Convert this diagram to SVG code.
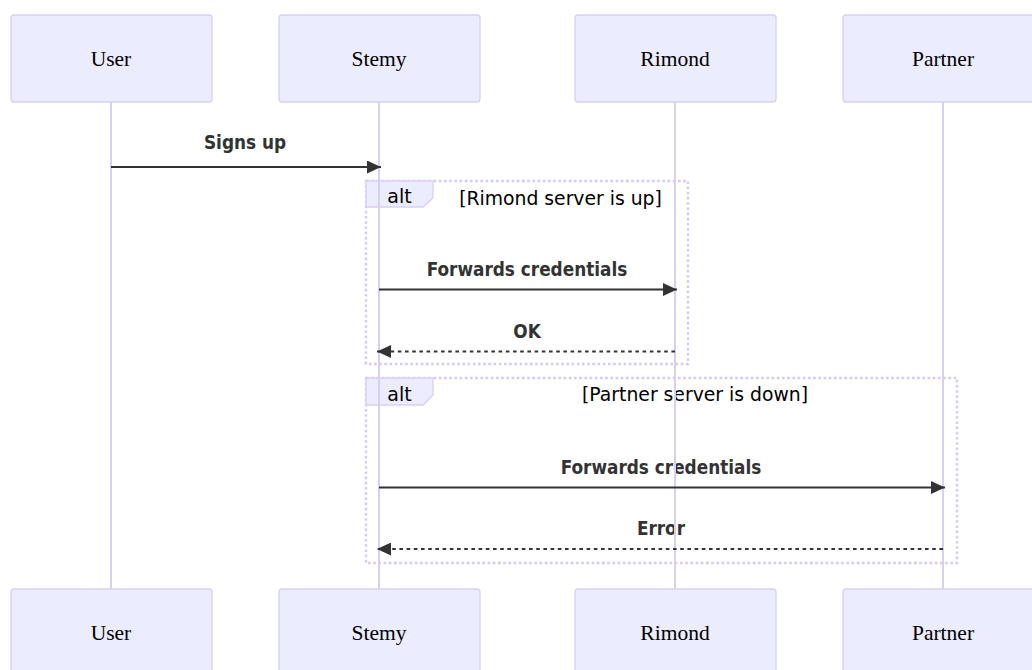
<svg xmlns="http://www.w3.org/2000/svg" width="1032" height="670" viewBox="0 0 1032 670">
<style>
.actor{fill:#ECECFF;stroke:#DACEF3;stroke-width:1.3}
.actorText{font-family:"Liberation Serif",serif;font-size:21.5px;fill:#000;text-anchor:middle;dominant-baseline:central}
.life{stroke:#DACEF3;stroke-width:2}
.frame{fill:none;stroke:#D6CAF4;stroke-width:2.4;stroke-dasharray:2.6 2.6}
.labelBox{fill:#ECECFF;stroke:#DACEF3;stroke-width:1.3}
.labelText{font-family:"DejaVu Sans",sans-serif;font-size:19px;fill:#000;text-anchor:middle}
.condText{font-family:"DejaVu Sans",sans-serif;font-size:18.8px;fill:#000;text-anchor:middle}
.msgText{font-family:"DejaVu Sans Condensed","DejaVu Sans",sans-serif;font-weight:bold;font-size:18.8px;fill:#333;text-anchor:middle}
.msg{stroke:#333;stroke-width:2;fill:none}
.dashed{stroke-dasharray:3.6 3.6}
</style>
<defs>
<marker id="arrow" viewBox="0 0 14 13" refX="14" refY="6.5" markerWidth="14" markerHeight="13" markerUnits="userSpaceOnUse" orient="auto">
<path d="M0,0 L14,6.5 L0,13 z" fill="#333"/>
</marker>
</defs>

<g id="frames">
<g id="alt1">
<rect class="frame" x="366" y="181" width="322" height="183"/>
<polygon class="labelBox" points="366,181 433,181 433,198 423,207 366,207"/>
<text class="labelText" x="399.5" y="203">alt</text>
<text class="condText" x="560.5" y="205">[Rimond server is up]</text>
</g>
<g id="alt2">
<rect class="frame" x="366" y="378" width="591" height="185"/>
<polygon class="labelBox" points="366,378 433,378 433,395 423,405 366,405"/>
<text class="labelText" x="399.5" y="401">alt</text>
<text class="condText" x="695" y="401">[Partner server is down]</text>
</g>
</g>

<g id="message-labels">
<text class="msgText" x="245" y="149">Signs up</text>
<text class="msgText" x="527" y="276">Forwards credentials</text>
<text class="msgText" x="527" y="338">OK</text>
<text class="msgText" x="661" y="474">Forwards credentials</text>
<text class="msgText" x="661" y="535">Error</text>
</g>

<g id="lifelines">
<line class="life" x1="111" y1="102" x2="111" y2="589"/>
<line class="life" x1="379" y1="102" x2="379" y2="589"/>
<line class="life" x1="675" y1="102" x2="675" y2="589"/>
<line class="life" x1="943" y1="102" x2="943" y2="589"/>
</g>

<g id="connectors">
<line class="msg" x1="111" y1="167" x2="381" y2="167" marker-end="url(#arrow)"/>
<line class="msg" x1="379" y1="289.5" x2="677" y2="289.5" marker-end="url(#arrow)"/>
<line class="msg dashed" x1="675" y1="351.5" x2="377" y2="351.5" marker-end="url(#arrow)"/>
<line class="msg" x1="379" y1="487.5" x2="945" y2="487.5" marker-end="url(#arrow)"/>
<line class="msg dashed" x1="943" y1="549" x2="377" y2="549" marker-end="url(#arrow)"/>
</g>

<g id="actor-user">
<rect class="actor" x="11" y="15" width="201" height="87" rx="3"/>
<text class="actorText" x="111" y="58.5">User</text>
<rect class="actor" x="11" y="589" width="201" height="87" rx="3"/>
<text class="actorText" x="111" y="632.5">User</text>
</g>
<g id="actor-stemy">
<rect class="actor" x="279" y="15" width="201" height="87" rx="3"/>
<text class="actorText" x="379" y="58.5">Stemy</text>
<rect class="actor" x="279" y="589" width="201" height="87" rx="3"/>
<text class="actorText" x="379" y="632.5">Stemy</text>
</g>
<g id="actor-rimond">
<rect class="actor" x="575" y="15" width="201" height="87" rx="3"/>
<text class="actorText" x="675" y="58.5">Rimond</text>
<rect class="actor" x="575" y="589" width="201" height="87" rx="3"/>
<text class="actorText" x="675" y="632.5">Rimond</text>
</g>
<g id="actor-partner">
<rect class="actor" x="843" y="15" width="201" height="87" rx="3"/>
<text class="actorText" x="943" y="58.5">Partner</text>
<rect class="actor" x="843" y="589" width="201" height="87" rx="3"/>
<text class="actorText" x="943" y="632.5">Partner</text>
</g>
</svg>
